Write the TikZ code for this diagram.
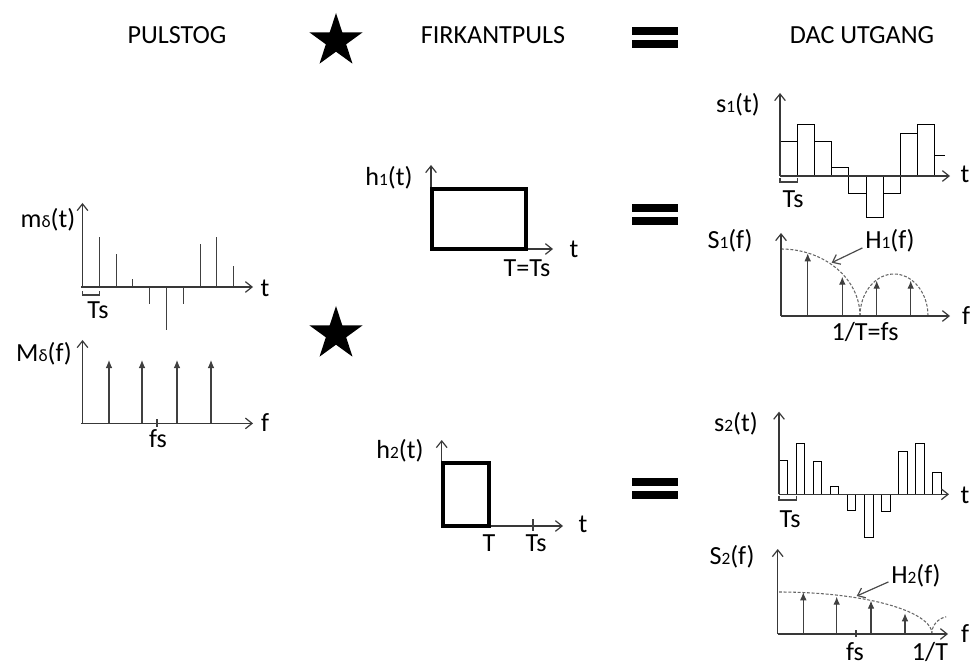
\documentclass[tikz,border=0pt]{standalone}
\usepackage{fontspec}
\setmainfont{Carlito}
\usetikzlibrary{arrows.meta,shapes.geometric}
\newcommand{\lblfont}{\fontsize{19.6}{23}\selectfont}
\newcommand{\smallsub}[1]{{\fontsize{13}{15}\selectfont #1}}
\tikzset{
  lbl/.style={font=\lblfont, inner sep=0pt, anchor=base, text=black},
  axis/.style={draw=black!78, line width=0.9pt, -{Straight Barb[length=5pt,width=8pt]}},
  stem/.style={draw=black!75, line width=0.8pt},
  spike/.style={stem, -{Latex[length=6pt,width=5pt]}},
  pulse/.style={draw=black, line width=2.6pt, line join=miter},
  bar/.style={draw=black, line width=0.7pt},
  envelope/.style={draw=black!60, line width=0.8pt, dash pattern=on 2.2pt off 1.3pt},
  pointer/.style={draw=black!70, line width=0.9pt, -{Straight Barb[length=5pt,width=8pt]}},
  convstar/.style={star, star points=5, star point ratio=2.618, fill=black, draw=none,
                   minimum size=42pt, inner sep=0pt},
  eqbar/.style={fill=black}
}
\begin{document}
\begin{tikzpicture}[x=0.75pt,y=-0.75pt]
\useasboundingbox (0,0) rectangle (970,666);

% ---------- headings ----------
\node[lbl] (hdrA) at (177,43.5) {PULSTOG};
\node[convstar] (starA) at (336,41) {};
\node[lbl] (hdrB) at (493,43.5) {FIRKANTPULS};
\fill[eqbar] (632,27) rectangle (678,35);
\fill[eqbar] (632,40) rectangle (678,48);
\node[lbl] (hdrC) at (862,43.5) {DAC UTGANG};

% ---------- impulse train m_delta(t) ----------
\foreach \k/\v in {1/237,2/254,3/279,4/304,5/330,6/304,7/244,8/237,9/266}
  \draw[stem] ({82.5+16.8*\k},287) -- ({82.5+16.8*\k},\v);
\draw[axis] (82.5,287) -- (82.5,203);
\draw[axis] (81,287) -- (253,287);
\draw[stem] (82.5,291) -- (82.5,295) -- (99.3,295) -- (99.3,291);
\node[lbl] (mdlbl) at (48,228) {m\smallsub{δ}(t)};
\node[lbl] (mdt) at (265,297) {t};
\node[lbl] (mdTs) at (98,319) {Ts};

% ---------- spectrum M_delta(f) ----------
\foreach \x in {109,142,177,211}
  \draw[spike] (\x,423.4) -- (\x,360);
\draw[axis] (82.5,423.4) -- (82.5,340);
\draw[axis] (81,423.4) -- (253,423.4);
\draw[stem] (157,419) -- (157,427);
\node[lbl] (Mdlbl) at (44,361) {M\smallsub{δ}(f)};
\node[lbl] (Mdf) at (265,431) {f};
\node[lbl] (Mdfs) at (158,447) {fs};

% ---------- convolution star between columns ----------
\node[convstar] (starB) at (336,334) {};

% ---------- pulse h1(t), width T = Ts ----------
\draw[axis] (431,249) -- (431,165);
\draw[axis] (431,249) -- (553,249);
\draw[pulse] (432,189) rectangle (526,249);
\node[lbl] (h1lbl) at (389,186) {h\smallsub{1}(t)};
\node[lbl] (h1t) at (574,258) {t};
\node[lbl] (h1T) at (527,277) {T=Ts};

% ---------- pulse h2(t), width T < Ts ----------
\draw[axis] (441.7,526) -- (441.7,440);
\draw[axis] (441.7,526) -- (563,526);
\draw[stem] (533,519) -- (533,531);
\draw[pulse] (443,463) rectangle (489,526);
\node[lbl] (h2lbl) at (400,458) {h\smallsub{2}(t)};
\node[lbl] (h2t) at (583,532) {t};
\node[lbl] (h2T) at (489,551) {T};
\node[lbl] (h2Ts) at (536,551) {Ts};

% ---------- equal signs ----------
\fill[eqbar] (632,204) rectangle (678,212);
\fill[eqbar] (632,217) rectangle (678,225);
\fill[eqbar] (632,478) rectangle (678,486);
\fill[eqbar] (632,491) rectangle (678,499);

% ---------- DAC output s1(t): full-width hold ----------
\foreach \k/\v in {0/141.7,1/124.3,2/141.7,3/167.3,4/193.3,5/217.7,6/193.3,7/133.3,8/124.3}
  \draw[bar] ({780+17.2*\k},176) rectangle ({780+17.2*(\k+1)},\v);
\draw[bar] (934.8,155) -- (945,155);
\draw[axis] (780,176) -- (780,93);
\draw[axis] (780,176) -- (950,176);
\draw[stem] (780,178) -- (780,182) -- (797.2,182) -- (797.2,178);
\node[lbl] (s1lbl) at (738,113) {s\smallsub{1}(t)};
\node[lbl] (s1t) at (965,183) {t};
\node[lbl] (s1Ts) at (793,208) {Ts};

% ---------- spectrum S1(f) ----------
\draw[envelope] plot[domain=270:360,samples=40] ({781+79*cos(\x)},{316+67*sin(\x)});
\draw[envelope] plot[domain=180:360,samples=40] ({894+34*cos(\x)},{316+42*sin(\x)});
\foreach \x/\v in {807.7/253.3,842.3/276.7,876.7/280.7,910.7/280.7}
  \draw[spike] (\x,316) -- (\x,\v);
\draw[axis] (781,316) -- (781,233);
\draw[axis] (781,316) -- (950,316);
\node[lbl] (S1lbl) at (730,249) {S\smallsub{1}(f)};
\node[lbl] (H1lbl) at (890,249) {H\smallsub{1}(f)};
\node[lbl] (S1f) at (966,325) {f};
\node[lbl] (S1fs) at (865,340) {1/T=fs};
\coordinate (h1tip) at (831.7,262.7);
\draw[pointer] ([xshift=-2pt,yshift=-5pt]H1lbl.west) -- (h1tip);

% ---------- DAC output s2(t): narrow hold ----------
\foreach \k/\h in {0/34,1/51,2/33,3/8,4/-16,5/-43,6/-17,7/43,8/51,9/22}
  \draw[bar] ({779+17.1*\k},494.3) rectangle ({787.5+17.1*\k},{494.3-\h});
\draw[axis] (779,494.3) -- (779,411.7);
\draw[axis] (779,494.3) -- (949,494.3);
\draw[stem] (779,496) -- (779,500) -- (796.5,500) -- (796.5,496);
\node[lbl] (s2lbl) at (736,431) {s\smallsub{2}(t)};
\node[lbl] (s2t) at (965,503) {t};
\node[lbl] (s2Ts) at (790,527) {Ts};

% ---------- spectrum S2(f) ----------
\draw[envelope] plot[domain=270:360,samples=50] ({779+153*cos(\x)},{634+42*sin(\x)});
\draw[envelope] plot[domain=180:258,samples=20] ({950+18.3*cos(\x)},{634+17.6*sin(\x)});
\foreach \x/\v in {803.3/592.3,836.7/596.7,871/600.7,905/613.3}
  \draw[spike] (\x,634) -- (\x,\v);
\draw[stem] (856,630) -- (856,637);
\draw[axis] (777.7,634) -- (777.7,549);
\draw[axis] (777.7,634) -- (948,634);
\node[lbl] (S2lbl) at (732,564) {S\smallsub{2}(f)};
\node[lbl] (H2lbl) at (916,583) {H\smallsub{2}(f)};
\node[lbl] (S2f) at (965,642) {f};
\node[lbl] (S2fs) at (855,660) {fs};
\node[lbl] (S2T) at (930,660) {1/T};
\coordinate (h2tip) at (856.7,596);
\draw[pointer] ([xshift=-2pt,yshift=-5pt]H2lbl.west) -- (h2tip);
\end{tikzpicture}
\end{document}
